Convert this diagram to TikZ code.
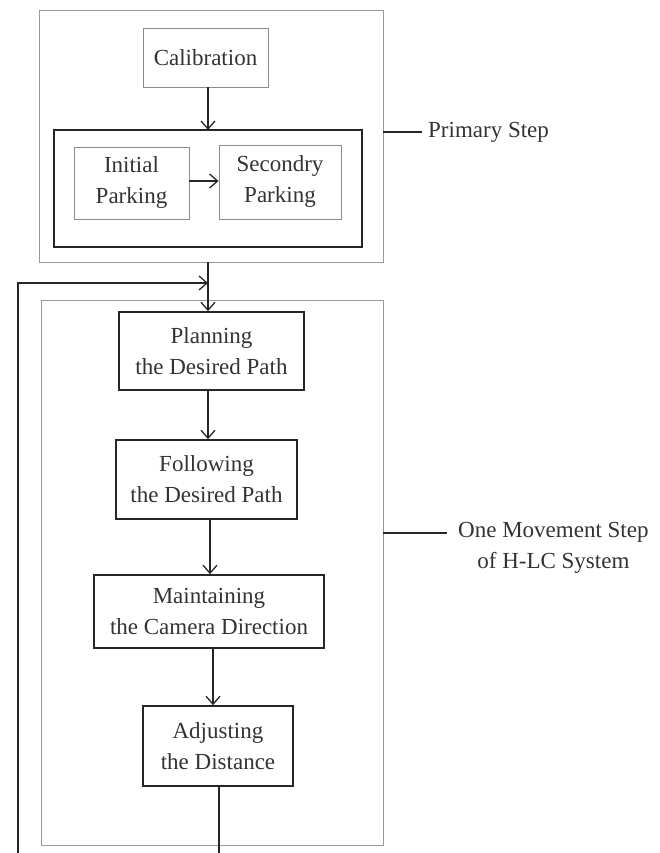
\documentclass[tikz,border=0pt]{standalone}
\usepackage{fontspec}
\setmainfont{Liberation Serif}
\usetikzlibrary{arrows.meta,positioning}

\begin{document}
\begin{tikzpicture}
[x=1pt, y=-1pt, font=\fontsize{23}{31}\selectfont, text=black!80,
% STYLES
>={Straight Barb[length=8pt,width=14pt]},
% gray frames round the two stages
stage/.style={rectangle, draw=black!40, line width=0.9pt, inner sep=0pt},
% light boxes of the primary stage
light/.style={rectangle, draw=black!45, line width=0.9pt, align=center, inner sep=0pt},
% heavy boxes of the movement stage
heavy/.style={rectangle, draw=black!85, line width=1.6pt, align=center, inner sep=0pt},
link/.style={->, color=black!85, line width=1.3pt},
tick/.style={draw=black!85, line width=1.3pt},
side/.style={align=center, inner sep=0pt}]

\useasboundingbox (0,0) rectangle (659,853);

% primary step
\node [stage, minimum width=344pt, minimum height=252pt] (primary) at (211,136) {};
\node [light, minimum width=125pt, minimum height=59pt] (calib) at (205.5,57.5) {Calibration};
\node [heavy, line width=2pt, minimum width=308pt, minimum height=117pt] (parking) at (208,188.5) {};
\node [light, minimum width=115pt, minimum height=72pt] (initial) at (131.5,183) {Initial\\Parking};
\node [light, minimum width=122pt, minimum height=74pt] (secondry) at (280,182) {Secondry\\Parking};

% one movement step
\node [stage, minimum width=342pt, minimum height=545pt] (movement) at (212,572.5) {};
\node [heavy, minimum width=185pt, minimum height=78pt] (planning) at (211.5,351) {Planning\\the Desired Path};
\node [heavy, minimum width=181pt, minimum height=79pt] (following) at (206.5,479.5) {Following\\the Desired Path};
\node [heavy, minimum width=230pt, minimum height=73pt] (maintain) at (209,611.5) {Maintaining\\the Camera Direction};
\node [heavy, minimum width=150pt, minimum height=80pt] (adjust) at (218,746) {Adjusting\\the Distance};

% side labels
\node [side, anchor=west] (primarylabel) at (428,132) {Primary Step};
\node [side, anchor=west] (movelabel) at (458,548) {One Movement Step\\of H-LC System};

\coordinate (primarytick) at (422,132);
\coordinate (movetick) at (447,533);
\coordinate (join) at (208,283);
\coordinate (loopend) at (18,853);

%%%%%%%%%%%%%%%%

\path[link]
(calib.south -| 208,0) edge (208,130)
(initial.east |- 0,181) edge (secondry.west |- 0,181)
(join |- primary.south) edge (join |- planning.north)
(planning.south -| join) edge (following.north -| join)
(following.south -| 210,0) edge (maintain.north -| 210,0)
(maintain.south -| 213,0) edge (adjust.north -| 213,0);

\draw[link] (loopend) |- (join);
\draw[tick] (adjust.south -| 219,0) -- (219,853);

\draw[tick] (primarytick -| primary.east) -- (primarytick);
\draw[tick] (movetick -| movement.east) -- (movetick);

\end{tikzpicture}
\end{document}
